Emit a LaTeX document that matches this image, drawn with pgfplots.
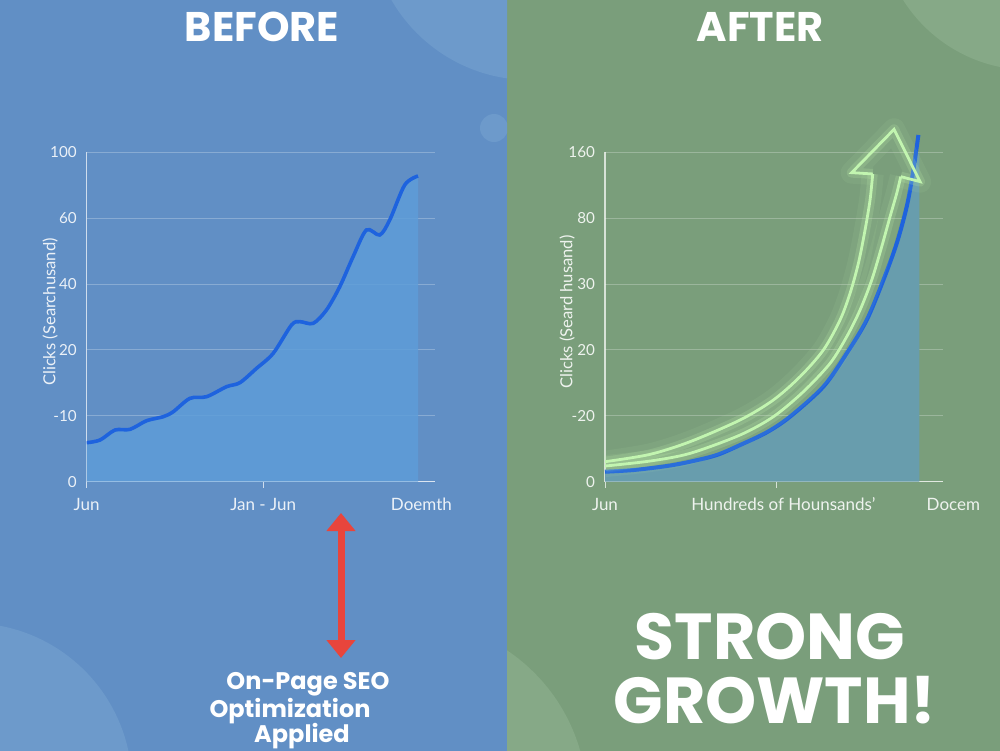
\documentclass[border=0pt]{standalone}
\usepackage{fontspec}
\setmainfont{Lato}
\newfontfamily\titlefont{Poppins}
\usepackage{pgfplots}
\pgfplotsset{compat=1.18}
\usetikzlibrary{arrows.meta}
\definecolor{bgblue}{HTML}{618FC5}
\definecolor{bggreen}{HTML}{7A9E7B}
\definecolor{circblue}{HTML}{6D9ACB}
\definecolor{circgreen}{HTML}{86A987}
\definecolor{leftfill}{HTML}{5E9DD8}
\definecolor{rightfill}{HTML}{689DAD}
\definecolor{lineblue}{HTML}{1E63DE}
\definecolor{arrowgreen}{HTML}{C2F5B0}
\definecolor{redarrow}{HTML}{E8453C}
\tikzset{xlab/.style={font=\fontsize{8.5}{10}\selectfont, text=white, text opacity=0.88, text height=6.5pt, text depth=2pt}}
\pgfplotsset{
  panel/.style={
    scale only axis, height=164.7pt, anchor=south west,
    ymin=0, ymax=988, clip=false,
    axis x line*=bottom, axis y line*=left,
    axis line style={white, opacity=0.7, line width=0.6pt},
    ymajorgrids, grid style={white, opacity=0.25, line width=0.5pt},
    ytick={0,197.6,395.2,592.8,790.4,988},
    major tick length=3pt, tick align=outside,
    xtick style={white, opacity=0.7, line width=0.5pt},
    ytick style={draw=none},
    xticklabel style={xlab, yshift=-1.5pt},
    yticklabel style={font=\fontsize{7.6}{9}\selectfont, text=white, text opacity=0.88, xshift=1.5pt},
    extra x tick style={xtick style={draw=none}},
    ylabel style={anchor=center, font=\fontsize{8.3}{10}\selectfont, text=white, text opacity=0.88},
  }
}
\begin{document}
\begin{tikzpicture}[x=0.5pt,y=-0.5pt]
\useasboundingbox (0,0) rectangle (1000,750);
\fill[bgblue] (-10,-10) rectangle (507,760);
\fill[bggreen] (507,-10) rectangle (1010,760);
\begin{scope}
  \clip (-10,-10) rectangle (507,760);
  \fill[circblue] (530,-80) circle[radius=80pt];
  \fill[circblue] (-30,785) circle[radius=81pt];
  \fill[circblue] (494,128) circle[radius=7pt];
\end{scope}
\begin{scope}
  \clip (507,-10) rectangle (1010,760);
  \fill[circgreen] (407,800) circle[radius=90pt];
  \fill[circgreen] (1030,-80) circle[radius=75pt];
\end{scope}

% LEFT (BEFORE)
\begin{axis}[panel, at={(43.35pt,-240.85pt)}, width=174pt,
  xmin=260, xmax=1305,
  xtick={260,790}, xticklabels={Jun,Jan - Jun},
  extra x ticks={1265}, extra x tick labels={Doemth},
  yticklabels={0,-10,20,40,60,100},
  ylabel={Clicks (Searchusand)},
  ylabel style={at={(axis description cs:-0.105,0.515)}}]
\addplot[smooth, draw=none, fill=leftfill, fill opacity=0.85] coordinates {
(260,117) (300,125) (345,155) (390,157) (440,183) (490,195) (520,210) (570,250)
(620,255) (680,285) (720,297) (770,340) (820,385) (875,470) (900,480) (940,475)
(980,515) (1020,585) (1060,675) (1100,755) (1140,740) (1170,785) (1215,890) (1255,917)} \closedcycle;
\addplot[smooth, lineblue, line width=1.8pt] coordinates {
(260,117) (300,125) (345,155) (390,157) (440,183) (490,195) (520,210) (570,250)
(620,255) (680,285) (720,297) (770,340) (820,385) (875,470) (900,480) (940,475)
(980,515) (1020,585) (1060,675) (1100,755) (1140,740) (1170,785) (1215,890) (1255,917)};
\end{axis}

% RIGHT (AFTER)
\begin{axis}[panel, at={(302.5pt,-240.85pt)}, width=169.2pt,
  xmin=315, xmax=1330,
  xtick={315,830}, xticklabels={Jun,{}},
  extra x ticks={850}, extra x tick labels={Hundreds of Hounsands’},
  yticklabels={0,-20,20,30,80,160},
  ylabel={Clicks (Seard husand)},
  ylabel style={at={(axis description cs:-0.112,0.515)}}]
\addplot[smooth, draw=none, fill=rightfill] coordinates {
(315,30) (400,35) (500,47) (570,60) (650,80) (720,110) (800,148) (870,195) (970,285)
(1040,385) (1100,485) (1150,605) (1190,715) (1220,825) (1240,935) (1258,990)} \closedcycle;
\addplot[smooth, lineblue, line width=2pt] coordinates {
(315,30) (400,35) (500,47) (570,60) (650,80) (720,110) (800,148) (870,195) (970,285)
(1040,385) (1100,485) (1150,605) (1190,715) (1220,825) (1240,935) (1255,1040)};
% wide soft glow
\addplot[smooth, arrowgreen, line width=11pt, opacity=0.08] coordinates {
(315,60) (450,82) (570,120) (720,185) (820,245) (900,315) (970,395) (1020,485)
(1050,565) (1075,655) (1095,755) (1110,845) (1118,923)};
\addplot[smooth, arrowgreen, line width=11pt, opacity=0.08] coordinates {
(1202,915) (1190,865) (1170,795) (1145,705) (1115,605) (1080,515) (1040,435)
(990,355) (910,270) (820,195) (720,140) (570,85) (450,62) (315,47)};
\addplot[arrowgreen, line width=11pt, opacity=0.08, line join=round] coordinates {
(1118,923) (1055,927) (1182,1057) (1260,900) (1202,915)};
% glow
\addplot[smooth, arrowgreen, line width=5pt, opacity=0.18] coordinates {
(315,60) (450,82) (570,120) (720,185) (820,245) (900,315) (970,395) (1020,485)
(1050,565) (1075,655) (1095,755) (1110,845) (1118,923)};
\addplot[smooth, arrowgreen, line width=5pt, opacity=0.18] coordinates {
(1202,915) (1190,865) (1170,795) (1145,705) (1115,605) (1080,515) (1040,435)
(990,355) (910,270) (820,195) (720,140) (570,85) (450,62) (315,47)};
\addplot[arrowgreen, line width=5pt, opacity=0.18, line join=round] coordinates {
(1118,923) (1055,927) (1182,1057) (1260,900) (1202,915)};
% arrow
\addplot[smooth, arrowgreen, line width=1.4pt] coordinates {
(315,60) (450,82) (570,120) (720,185) (820,245) (900,315) (970,395) (1020,485)
(1050,565) (1075,655) (1095,755) (1110,845) (1118,923)};
\addplot[smooth, arrowgreen, line width=1.4pt] coordinates {
(1202,915) (1190,865) (1170,795) (1145,705) (1115,605) (1080,515) (1040,435)
(990,355) (910,270) (820,195) (720,140) (570,85) (450,62) (315,47)};
\addplot[arrowgreen, line width=1.4pt, line join=miter] coordinates {
(1118,923) (1055,927) (1182,1057) (1260,900) (1202,915)};
\node[anchor=north, xlab, yshift=-4.5pt] at (axis cs:1360,0) {Docem};
\end{axis}

% titles
\node[font=\titlefont\bfseries\fontsize{20.7}{24}\selectfont, white] at (262,27) {BEFORE};
\node[font=\titlefont\bfseries\fontsize{20.7}{24}\selectfont, white] at (760,27) {AFTER};
% red arrow
\draw[redarrow, line width=3.5pt, {Triangle[width=14pt,length=9pt]}-{Triangle[width=14pt,length=9pt]}] (341,513) -- (341,658);
% bottom left text
\node[font=\titlefont\bfseries\fontsize{12}{14}\selectfont, white] at (308,684) {On-Page SEO};
\node[font=\titlefont\bfseries\fontsize{12}{14}\selectfont, white] at (290,711) {Optimization};
\node[font=\titlefont\bfseries\fontsize{12}{14}\selectfont, white] at (302,736) {Applied};
% strong growth
\node[font=\titlefont\bfseries\fontsize{32.5}{38}\selectfont, white] at (770,637) {STRONG};
\node[font=\titlefont\bfseries\fontsize{32.5}{38}\selectfont, white] at (775,700) {GROWTH!};
\end{tikzpicture}
\end{document}
